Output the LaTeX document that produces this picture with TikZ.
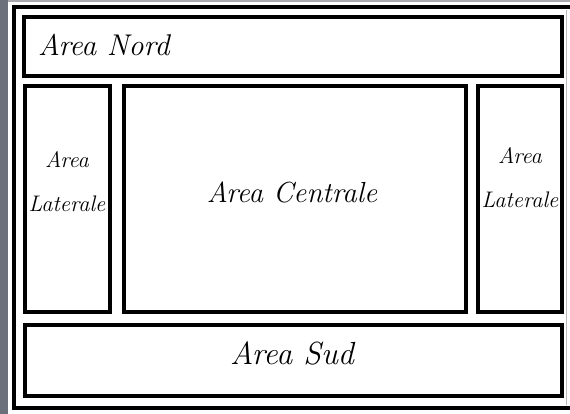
\documentclass[tikz,border=0pt]{standalone}
\definecolor{stripgray}{RGB}{108,112,122}
\definecolor{thingray}{RGB}{185,185,190}
\begin{document}
\begin{tikzpicture}[x=1pt,y=-1pt,
  box/.style={draw=black,line width=4pt,rectangle,inner sep=0pt,outer sep=0pt},
  hand/.style={font=\itshape\fontsize{29}{32}\selectfont,inner sep=0pt,align=center},
  handsmall/.style={font=\itshape\fontsize{22.5}{44}\selectfont,inner sep=0pt,align=center}]
\useasboundingbox (0,0) rectangle (570,414);
\fill[white] (0,0) rectangle (570,414);
\fill[stripgray] (0,0) rectangle (8,414);
\fill[stripgray!60] (8,0) rectangle (570,2);
\begin{scope}
  \clip (0,0) rectangle (570,414);
  \draw[line width=3.5pt] (14,7) rectangle (590,408);
\end{scope}
\draw[thingray,line width=1pt] (566,10) -- (566,405);
% boxes
\node[box,minimum width=537.5pt,minimum height=59pt] (nord) at (292.75,46.5) {};
\node[box,minimum width=85.5pt,minimum height=225.5pt] (latl) at (67.25,198.75) {};
\node[box,minimum width=341.5pt,minimum height=225.5pt] (cent) at (294.75,198.75) {};
\node[box,minimum width=84pt,minimum height=225.5pt] (latr) at (519.5,198.75) {};
\node[box,minimum width=536.5pt,minimum height=71pt] (sud) at (293.25,360) {};
% labels
\node[hand,anchor=west,font=\itshape\fontsize{30}{32}\selectfont] (tnord) at (38,45) {Area Nord};
\node[handsmall] (tlatl) at (67,182) {Area\\Laterale};
\node[hand] (tcent) at (292,192) {Area Centrale};
\node[handsmall] (tlatr) at (520,178) {Area\\Laterale};
\node[hand,font=\itshape\fontsize{32}{34}\selectfont] (tsud) at (292,353) {Area Sud};
\end{tikzpicture}
\end{document}
